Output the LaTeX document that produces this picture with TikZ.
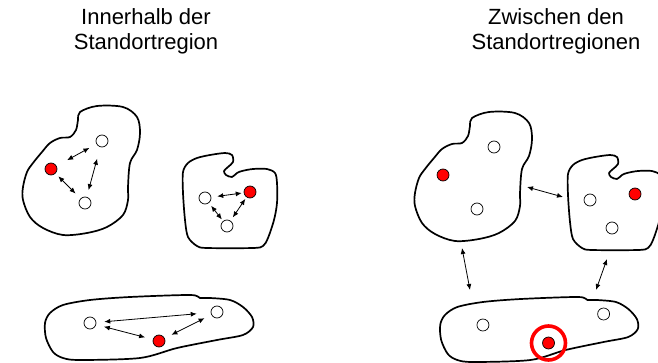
\documentclass[tikz,border=0pt]{standalone}
\usepackage{fontspec}
\setmainfont{Liberation Sans}
\usetikzlibrary{arrows.meta}

% outlines of the three region shapes
\newcommand\BlobOne{plot[smooth cycle, tension=0.55] coordinates {
  (80,112) (97,106) (123,107) (137,117) (140,133) (137,150) (130,163)
  (128,187) (128,200) (123,215) (107,227) (87,233) (63,235) (43,228)
  (30,217) (23,200) (23,187) (27,172) (33,163) (42,152) (50,143)
  (60,138) (70,137) (76,130) (78,120)}}
\newcommand\BlobTwo{plot[smooth cycle, tension=0.5] coordinates {
  (183,172) (188,163) (197,158) (210,155) (225,153) (232,155) (233,162)
  (228,167) (224,171) (226,175) (232,177) (237,173) (242,171) (253,169)
  (267,169) (275,173) (277,183) (277,203) (274,220) (268,238) (263,246)
  (253,248) (207,248) (197,246) (188,237) (185,220) (183,193)}}
\newcommand\BlobThree{plot[smooth cycle, tension=0.5] coordinates {
  (45,323) (50,313) (63,305) (90,300) (130,297) (190,295) (200,298)
  (210,298) (230,300) (243,307) (252,317) (253,327) (243,335) (217,340)
  (177,348) (140,358) (80,360) (63,358) (53,352) (46,338)}}

\begin{document}
\begin{tikzpicture}[x=1pt,y=-1pt,
  outline/.style={draw, line width=1.7pt, line join=round},
  dot/.style={circle, draw, line width=0.7pt, minimum size=12pt, inner sep=0pt, fill=white},
  reddot/.style={dot, fill=red},
  link/.style={line width=0.8pt, {Latex[length=6pt,width=5pt]}-{Latex[length=6pt,width=5pt]}},
  title/.style={font=\fontsize{22}{25}\selectfont, anchor=base, inner sep=0pt}]
\useasboundingbox (0,0) rectangle (658,363);

% headings
\node[title] (tl1) at (146,25) {Innerhalb der};
\node[title] (tl2) at (146,50) {Standortregion};
\node[title] (tr1) at (556,25) {Zwischen den};
\node[title] (tr2) at (556,50) {Standortregionen};

% ---------- left: links inside each region ----------
\draw[outline] \BlobOne;
\node[reddot] (a1) at (51,169) {};
\node[dot] (a2) at (102,141) {};
\node[dot] (a3) at (85,203) {};
\draw[link, shorten <=12pt, shorten >=8pt] (a1) -- (a2);
\draw[link, shorten <=4pt, shorten >=7pt] (a1) -- (a3);
\draw[link, shorten <=12pt, shorten >=7pt] (a2) -- (a3);

\draw[outline] \BlobTwo;
\node[dot] (b1) at (205,198) {};
\node[reddot] (b2) at (250,192) {};
\node[dot] (b3) at (227,226) {};
\draw[link, shorten <=6pt, shorten >=2pt] (b1) -- (b2);
\draw[link, shorten <=3.5pt, shorten >=2pt] (b1) -- (b3);
\draw[link, shorten <=2pt, shorten >=4pt] (b2) -- (b3);

\draw[outline] \BlobThree;
\node[dot] (c1) at (90,323) {};
\node[dot] (c2) at (217,312) {};
\node[reddot] (c3) at (159,341) {};
\draw[link, shorten <=8pt, shorten >=14pt] (c1) -- (c2);
\draw[link, shorten <=8pt, shorten >=8pt] (c1) -- (c3);
\draw[link, shorten <=7.5pt, shorten >=7.5pt] (c3) -- (c2);

% ---------- right: links between the regions ----------
\begin{scope}[shift={(392,6)}]
  \draw[outline] \BlobOne;
  \node[reddot] (d1) at (51,169) {};
  \node[dot] (d2) at (102,141) {};
  \node[dot] (d3) at (85,203) {};
\end{scope}
\begin{scope}[shift={(385,2)}]
  \draw[outline] \BlobTwo;
  \node[dot] (e1) at (205,198) {};
  \node[reddot] (e2) at (250,192) {};
  \node[dot] (e3) at (227,226) {};
\end{scope}
\begin{scope}[shift={(539,2)}, xscale=0.95, shift={(-149,0)}]
  \draw[outline] \BlobThree;
  \node[dot] (f1) at (90,323) {};
  \node[dot] (f2) at (217,312) {};
  \node[reddot] (f3) at (159,341) {};
\end{scope}
\draw[red, line width=3.6pt] (f3) circle[radius=17pt];

\coordinate (de) at (527,187);
\coordinate (ed) at (563,197);
\coordinate (df) at (462,248);
\coordinate (fd) at (470,290);
\coordinate (ef) at (607,259);
\coordinate (fe) at (596,290);
\draw[link] (de) -- (ed);
\draw[link] (df) -- (fd);
\draw[link] (ef) -- (fe);
\end{tikzpicture}
\end{document}
